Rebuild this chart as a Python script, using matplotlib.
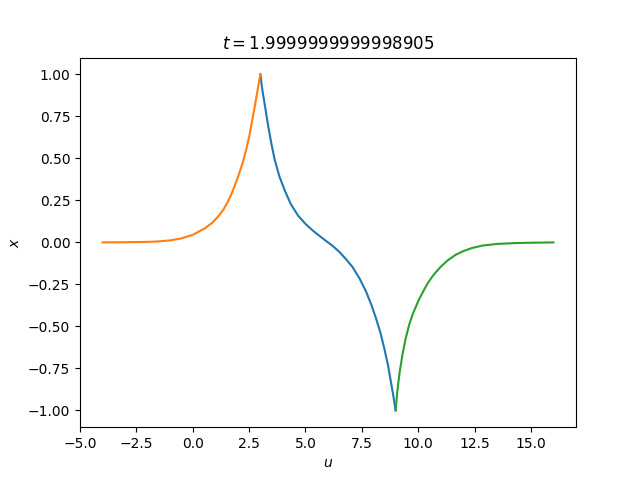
import numpy as np
import matplotlib
matplotlib.use('Agg')
import matplotlib.pyplot as plt

# 中间段 (u 从 3 到 9)
u_mid = [3.0, 3.08, 3.17, 3.26, 3.35, 3.5, 3.64, 3.85, 4.08, 4.35, 4.67, 5.0,
         5.41, 5.9, 6.2, 6.5, 6.8, 7.09, 7.4, 7.68, 7.92, 8.13, 8.33, 8.5,
         8.66, 8.79, 8.9, 9.0]
x_mid = [1.00, 0.915, 0.84, 0.765, 0.69, 0.58, 0.49, 0.39, 0.31, 0.228, 0.16, 0.11,
         0.061, 0.01, -0.02, -0.056, -0.10, -0.147, -0.215, -0.29, -0.37, -0.452, -0.54, -0.633,
         -0.73, -0.83, -0.915, -1.00]

# 左段 (u 从 -4 到 3)
u_left = [-4.0, -3.0, -2.0, -1.5, -1.0, -0.5, 0.0, 0.53, 0.85, 1.12, 1.35, 1.56,
          1.75, 1.93, 2.08, 2.23, 2.38, 2.52, 2.63, 2.74, 2.87, 3.0]
x_left = [0.000, 0.001, 0.003, 0.006, 0.012, 0.024, 0.045, 0.083, 0.115, 0.153, 0.193, 0.242,
          0.298, 0.361, 0.418, 0.48, 0.557, 0.64, 0.72, 0.80, 0.90, 1.00]

# 右段 (u 从 9 到 16)
u_right = [9.0, 9.08, 9.18, 9.3, 9.44, 9.6, 9.75, 10.0, 10.19, 10.4, 10.6, 10.78,
           11.0, 11.3, 11.67, 12.0, 12.4, 12.85, 13.5, 14.32, 15.0, 16.0]
x_right = [-1.00, -0.88, -0.77, -0.67, -0.575, -0.49, -0.43, -0.35, -0.30, -0.248, -0.208, -0.178,
           -0.145, -0.108, -0.073, -0.052, -0.033, -0.019, -0.009, -0.004, -0.002, 0.000]

t = 1.9999999999998905

fig, ax = plt.subplots(figsize=(6.4, 4.8), dpi=100)
ax.plot(u_mid, x_mid)
ax.plot(u_left, x_left)
ax.plot(u_right, x_right)
ax.set_title(f'$t = {t}$')
ax.set_xlabel('$u$')
ax.set_ylabel('$x$')
fig.savefig('out.png')
